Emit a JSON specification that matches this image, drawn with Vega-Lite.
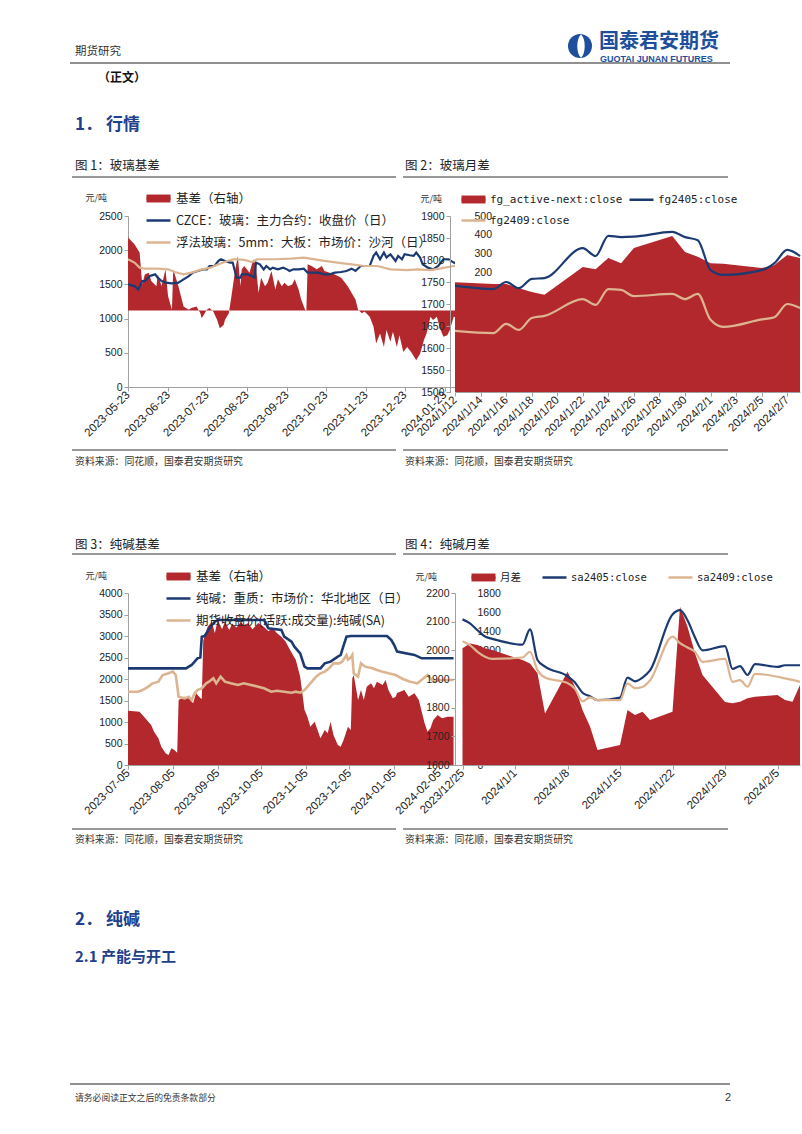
{
"$schema": "https://vega.github.io/schema/vega-lite/v6.json",
"padding": 0,
"background": "white",
"config": {
  "font": "Noto Sans CJK SC",
  "view": {"stroke": null},
  "axis": {"labelFont": "Liberation Sans", "labelFontSize": 10.5, "labelColor": "#222", "domainColor": "#a0a0a0", "tickColor": "#a0a0a0", "tickSize": 4, "grid": false, "labelPadding": 2}
},
"datasets": {
"g1": [
{"d":"2023-05-23","s":"b","v":386},{"d":"2023-05-28","s":"b","v":351},{"d":"2023-06-01","s":"b","v":307},{"d":"2023-06-03","s":"b","v":138},{"d":"2023-06-05","s":"b","v":191},{"d":"2023-06-08","s":"b","v":200},{"d":"2023-06-10","s":"b","v":156},{"d":"2023-06-14","s":"b","v":129},{"d":"2023-06-15","s":"b","v":191},{"d":"2023-06-18","s":"b","v":129},{"d":"2023-06-21","s":"b","v":218},{"d":"2023-06-23","s":"b","v":76},{"d":"2023-06-26","s":"b","v":5},{"d":"2023-06-27","s":"b","v":218},{"d":"2023-07-01","s":"b","v":129},{"d":"2023-07-05","s":"b","v":21},{"d":"2023-07-09","s":"b","v":5},{"d":"2023-07-11","s":"b","v":13},{"d":"2023-07-15","s":"b","v":21},{"d":"2023-07-18","s":"b","v":-14},{"d":"2023-07-19","s":"b","v":-41},{"d":"2023-07-23","s":"b","v":5},{"d":"2023-07-25","s":"b","v":13},{"d":"2023-07-28","s":"b","v":-5},{"d":"2023-07-31","s":"b","v":-50},{"d":"2023-08-02","s":"b","v":-94},{"d":"2023-08-05","s":"b","v":-76},{"d":"2023-08-06","s":"b","v":-50},{"d":"2023-08-09","s":"b","v":-14},{"d":"2023-08-11","s":"b","v":74},{"d":"2023-08-14","s":"b","v":218},{"d":"2023-08-16","s":"b","v":289},{"d":"2023-08-18","s":"b","v":129},{"d":"2023-08-19","s":"b","v":218},{"d":"2023-08-21","s":"b","v":236},{"d":"2023-08-25","s":"b","v":200},{"d":"2023-08-28","s":"b","v":271},{"d":"2023-08-30","s":"b","v":236},{"d":"2023-09-01","s":"b","v":94},{"d":"2023-09-03","s":"b","v":174},{"d":"2023-09-06","s":"b","v":129},{"d":"2023-09-08","s":"b","v":147},{"d":"2023-09-11","s":"b","v":209},{"d":"2023-09-14","s":"b","v":111},{"d":"2023-09-16","s":"b","v":165},{"d":"2023-09-19","s":"b","v":129},{"d":"2023-09-21","s":"b","v":147},{"d":"2023-09-24","s":"b","v":129},{"d":"2023-09-27","s":"b","v":138},{"d":"2023-09-29","s":"b","v":165},{"d":"2023-10-02","s":"b","v":111},{"d":"2023-10-04","s":"b","v":58},{"d":"2023-10-07","s":"b","v":5},{"d":"2023-10-08","s":"b","v":0},{"d":"2023-10-09","s":"b","v":245},{"d":"2023-10-12","s":"b","v":236},{"d":"2023-10-16","s":"b","v":218},{"d":"2023-10-20","s":"b","v":236},{"d":"2023-10-22","s":"b","v":209},{"d":"2023-10-26","s":"b","v":200},{"d":"2023-10-30","s":"b","v":191},{"d":"2023-11-04","s":"b","v":174},{"d":"2023-11-09","s":"b","v":129},{"d":"2023-11-15","s":"b","v":58},{"d":"2023-11-17","s":"b","v":5},{"d":"2023-11-20","s":"b","v":-14},{"d":"2023-11-22","s":"b","v":-5},{"d":"2023-11-26","s":"b","v":-32},{"d":"2023-11-29","s":"b","v":-85},{"d":"2023-12-01","s":"b","v":-174},{"d":"2023-12-04","s":"b","v":-121},{"d":"2023-12-07","s":"b","v":-192},{"d":"2023-12-09","s":"b","v":-103},{"d":"2023-12-12","s":"b","v":-165},{"d":"2023-12-14","s":"b","v":-112},{"d":"2023-12-17","s":"b","v":-192},{"d":"2023-12-19","s":"b","v":-130},{"d":"2023-12-22","s":"b","v":-219},{"d":"2023-12-25","s":"b","v":-192},{"d":"2023-12-28","s":"b","v":-219},{"d":"2024-01-01","s":"b","v":-263},{"d":"2024-01-04","s":"b","v":-228},{"d":"2024-01-07","s":"b","v":-156},{"d":"2024-01-09","s":"b","v":-121},{"d":"2024-01-12","s":"b","v":-32},{"d":"2024-01-14","s":"b","v":-50},{"d":"2024-01-17","s":"b","v":-32},{"d":"2024-01-19","s":"b","v":-85},{"d":"2024-01-22","s":"b","v":-139},{"d":"2024-01-25","s":"b","v":-130},{"d":"2024-01-27","s":"b","v":-103},{"d":"2024-01-30","s":"b","v":-32},{"d":"2024-02-04","s":"b","v":-40},{"d":"2024-02-08","s":"b","v":-20},
{"d":"2023-05-23","s":"f","v":1500},{"d":"2023-05-28","s":"f","v":1475},{"d":"2023-05-31","s":"f","v":1426},{"d":"2023-06-03","s":"f","v":1549},{"d":"2023-06-05","s":"f","v":1549},{"d":"2023-06-09","s":"f","v":1622},{"d":"2023-06-13","s":"f","v":1647},{"d":"2023-06-15","s":"f","v":1598},{"d":"2023-06-18","s":"f","v":1549},{"d":"2023-06-21","s":"f","v":1525},{"d":"2023-06-26","s":"f","v":1515},{"d":"2023-07-01","s":"f","v":1525},{"d":"2023-07-05","s":"f","v":1574},{"d":"2023-07-09","s":"f","v":1622},{"d":"2023-07-12","s":"f","v":1672},{"d":"2023-07-16","s":"f","v":1696},{"d":"2023-07-20","s":"f","v":1720},{"d":"2023-07-23","s":"f","v":1720},{"d":"2023-07-25","s":"f","v":1769},{"d":"2023-07-29","s":"f","v":1769},{"d":"2023-08-01","s":"f","v":1843},{"d":"2023-08-03","s":"f","v":1868},{"d":"2023-08-06","s":"f","v":1843},{"d":"2023-08-10","s":"f","v":1819},{"d":"2023-08-12","s":"f","v":1819},{"d":"2023-08-15","s":"f","v":1598},{"d":"2023-08-18","s":"f","v":1598},{"d":"2023-08-19","s":"f","v":1647},{"d":"2023-08-23","s":"f","v":1647},{"d":"2023-08-27","s":"f","v":1622},{"d":"2023-08-29","s":"f","v":1598},{"d":"2023-08-30","s":"f","v":1819},{"d":"2023-09-02","s":"f","v":1794},{"d":"2023-09-05","s":"f","v":1720},{"d":"2023-09-07","s":"f","v":1769},{"d":"2023-09-10","s":"f","v":1720},{"d":"2023-09-12","s":"f","v":1745},{"d":"2023-09-16","s":"f","v":1720},{"d":"2023-09-20","s":"f","v":1745},{"d":"2023-09-23","s":"f","v":1720},{"d":"2023-09-25","s":"f","v":1696},{"d":"2023-09-28","s":"f","v":1720},{"d":"2023-10-02","s":"f","v":1720},{"d":"2023-10-06","s":"f","v":1730},{"d":"2023-10-09","s":"f","v":1672},{"d":"2023-10-17","s":"f","v":1672},{"d":"2023-10-22","s":"f","v":1647},{"d":"2023-10-26","s":"f","v":1647},{"d":"2023-10-30","s":"f","v":1672},{"d":"2023-11-04","s":"f","v":1681},{"d":"2023-11-08","s":"f","v":1696},{"d":"2023-11-12","s":"f","v":1730},{"d":"2023-11-15","s":"f","v":1696},{"d":"2023-11-19","s":"f","v":1769},{"d":"2023-11-22","s":"f","v":1769},{"d":"2023-11-26","s":"f","v":1769},{"d":"2023-11-29","s":"f","v":1917},{"d":"2023-12-01","s":"f","v":1966},{"d":"2023-12-04","s":"f","v":1868},{"d":"2023-12-07","s":"f","v":1966},{"d":"2023-12-09","s":"f","v":1892},{"d":"2023-12-12","s":"f","v":1941},{"d":"2023-12-16","s":"f","v":1843},{"d":"2023-12-18","s":"f","v":1917},{"d":"2023-12-21","s":"f","v":1868},{"d":"2023-12-23","s":"f","v":1941},{"d":"2023-12-27","s":"f","v":1926},{"d":"2023-12-30","s":"f","v":1917},{"d":"2024-01-01","s":"f","v":1966},{"d":"2024-01-04","s":"f","v":1892},{"d":"2024-01-06","s":"f","v":1794},{"d":"2024-01-10","s":"f","v":1745},{"d":"2024-01-14","s":"f","v":1720},{"d":"2024-01-18","s":"f","v":1769},{"d":"2024-01-22","s":"f","v":1868},{"d":"2024-01-26","s":"f","v":1868},{"d":"2024-01-30","s":"f","v":1819},{"d":"2024-02-03","s":"f","v":1794},{"d":"2024-02-07","s":"f","v":1843},{"d":"2024-02-08","s":"f","v":1830},
{"d":"2023-05-23","s":"s","v":1868},{"d":"2023-05-28","s":"s","v":1819},{"d":"2023-06-01","s":"s","v":1745},{"d":"2023-06-05","s":"s","v":1730},{"d":"2023-06-15","s":"s","v":1730},{"d":"2023-06-23","s":"s","v":1720},{"d":"2023-06-28","s":"s","v":1681},{"d":"2023-07-05","s":"s","v":1647},{"d":"2023-07-11","s":"s","v":1672},{"d":"2023-07-19","s":"s","v":1720},{"d":"2023-07-26","s":"s","v":1745},{"d":"2023-08-01","s":"s","v":1794},{"d":"2023-08-08","s":"s","v":1843},{"d":"2023-08-13","s":"s","v":1868},{"d":"2023-08-21","s":"s","v":1858},{"d":"2023-08-27","s":"s","v":1828},{"d":"2023-08-31","s":"s","v":1868},{"d":"2023-09-13","s":"s","v":1868},{"d":"2023-09-26","s":"s","v":1877},{"d":"2023-10-06","s":"s","v":1892},{"d":"2023-10-11","s":"s","v":1877},{"d":"2023-10-22","s":"s","v":1843},{"d":"2023-11-01","s":"s","v":1819},{"d":"2023-11-12","s":"s","v":1794},{"d":"2023-11-22","s":"s","v":1769},{"d":"2023-12-02","s":"s","v":1769},{"d":"2023-12-12","s":"s","v":1720},{"d":"2023-12-25","s":"s","v":1710},{"d":"2024-01-02","s":"s","v":1720},{"d":"2024-01-12","s":"s","v":1710},{"d":"2024-01-19","s":"s","v":1730},{"d":"2024-01-30","s":"s","v":1769},{"d":"2024-02-08","s":"s","v":1780}
],
"g2": [
{"d":"2024-01-12","s":"a","v":312},{"d":"2024-01-15","s":"a","v":307},{"d":"2024-01-16","s":"a","v":307},{"d":"2024-01-17","s":"a","v":295},{"d":"2024-01-18","s":"a","v":284},{"d":"2024-01-19","s":"a","v":276},{"d":"2024-01-22","s":"a","v":355},{"d":"2024-01-23","s":"a","v":349},{"d":"2024-01-24","s":"a","v":381},{"d":"2024-01-25","s":"a","v":366},{"d":"2024-01-26","s":"a","v":409},{"d":"2024-01-29","s":"a","v":443},{"d":"2024-01-30","s":"a","v":398},{"d":"2024-01-31","s":"a","v":384},{"d":"2024-02-01","s":"a","v":366},{"d":"2024-02-02","s":"a","v":364},{"d":"2024-02-05","s":"a","v":352},{"d":"2024-02-06","s":"a","v":361},{"d":"2024-02-07","s":"a","v":389},{"d":"2024-02-08","s":"a","v":381},
{"d":"2024-01-12","s":"f5","v":1741},{"d":"2024-01-15","s":"f5","v":1734},{"d":"2024-01-16","s":"f5","v":1750},{"d":"2024-01-17","s":"f5","v":1736},{"d":"2024-01-18","s":"f5","v":1757},{"d":"2024-01-19","s":"f5","v":1759},{"d":"2024-01-22","s":"f5","v":1827},{"d":"2024-01-23","s":"f5","v":1809},{"d":"2024-01-24","s":"f5","v":1855},{"d":"2024-01-25","s":"f5","v":1852},{"d":"2024-01-26","s":"f5","v":1853},{"d":"2024-01-29","s":"f5","v":1864},{"d":"2024-01-30","s":"f5","v":1852},{"d":"2024-01-31","s":"f5","v":1845},{"d":"2024-02-01","s":"f5","v":1777},{"d":"2024-02-02","s":"f5","v":1766},{"d":"2024-02-05","s":"f5","v":1777},{"d":"2024-02-06","s":"f5","v":1793},{"d":"2024-02-07","s":"f5","v":1823},{"d":"2024-02-08","s":"f5","v":1809},
{"d":"2024-01-12","s":"f9","v":1639},{"d":"2024-01-15","s":"f9","v":1634},{"d":"2024-01-16","s":"f9","v":1655},{"d":"2024-01-17","s":"f9","v":1641},{"d":"2024-01-18","s":"f9","v":1668},{"d":"2024-01-19","s":"f9","v":1673},{"d":"2024-01-22","s":"f9","v":1711},{"d":"2024-01-23","s":"f9","v":1698},{"d":"2024-01-24","s":"f9","v":1734},{"d":"2024-01-25","s":"f9","v":1732},{"d":"2024-01-26","s":"f9","v":1718},{"d":"2024-01-29","s":"f9","v":1723},{"d":"2024-01-30","s":"f9","v":1711},{"d":"2024-01-31","s":"f9","v":1723},{"d":"2024-02-01","s":"f9","v":1664},{"d":"2024-02-02","s":"f9","v":1648},{"d":"2024-02-05","s":"f9","v":1665},{"d":"2024-02-06","s":"f9","v":1670},{"d":"2024-02-07","s":"f9","v":1700},{"d":"2024-02-08","s":"f9","v":1691}
],
"g3": [
{"d":"2023-07-05","s":"b","v":568},{"d":"2023-07-13","s":"b","v":558},{"d":"2023-07-18","s":"b","v":471},{"d":"2023-07-21","s":"b","v":419},{"d":"2023-07-23","s":"b","v":349},{"d":"2023-07-26","s":"b","v":279},{"d":"2023-07-28","s":"b","v":192},{"d":"2023-07-31","s":"b","v":122},{"d":"2023-08-02","s":"b","v":105},{"d":"2023-08-04","s":"b","v":175},{"d":"2023-08-06","s":"b","v":157},{"d":"2023-08-08","s":"b","v":129},{"d":"2023-08-09","s":"b","v":680},{"d":"2023-08-13","s":"b","v":715},{"d":"2023-08-16","s":"b","v":698},{"d":"2023-08-19","s":"b","v":645},{"d":"2023-08-21","s":"b","v":750},{"d":"2023-08-24","s":"b","v":700},{"d":"2023-08-25","s":"b","v":690},{"d":"2023-08-26","s":"b","v":1300},{"d":"2023-08-29","s":"b","v":1447},{"d":"2023-09-01","s":"b","v":1500},{"d":"2023-09-03","s":"b","v":1380},{"d":"2023-09-05","s":"b","v":1517},{"d":"2023-09-08","s":"b","v":1420},{"d":"2023-09-10","s":"b","v":1500},{"d":"2023-09-13","s":"b","v":1413},{"d":"2023-09-15","s":"b","v":1480},{"d":"2023-09-18","s":"b","v":1440},{"d":"2023-09-21","s":"b","v":1497},{"d":"2023-09-23","s":"b","v":1465},{"d":"2023-09-26","s":"b","v":1483},{"d":"2023-09-29","s":"b","v":1420},{"d":"2023-10-03","s":"b","v":1486},{"d":"2023-10-07","s":"b","v":1444},{"d":"2023-10-10","s":"b","v":1400},{"d":"2023-10-13","s":"b","v":1434},{"d":"2023-10-16","s":"b","v":1380},{"d":"2023-10-19","s":"b","v":1343},{"d":"2023-10-22","s":"b","v":1290},{"d":"2023-10-25","s":"b","v":1203},{"d":"2023-10-29","s":"b","v":1099},{"d":"2023-11-01","s":"b","v":924},{"d":"2023-11-04","s":"b","v":576},{"d":"2023-11-06","s":"b","v":506},{"d":"2023-11-08","s":"b","v":401},{"d":"2023-11-11","s":"b","v":453},{"d":"2023-11-13","s":"b","v":366},{"d":"2023-11-15","s":"b","v":279},{"d":"2023-11-18","s":"b","v":366},{"d":"2023-11-20","s":"b","v":332},{"d":"2023-11-22","s":"b","v":453},{"d":"2023-11-24","s":"b","v":314},{"d":"2023-11-27","s":"b","v":209},{"d":"2023-11-29","s":"b","v":192},{"d":"2023-12-01","s":"b","v":262},{"d":"2023-12-04","s":"b","v":401},{"d":"2023-12-06","s":"b","v":366},{"d":"2023-12-07","s":"b","v":907},{"d":"2023-12-08","s":"b","v":942},{"d":"2023-12-11","s":"b","v":680},{"d":"2023-12-13","s":"b","v":785},{"d":"2023-12-15","s":"b","v":680},{"d":"2023-12-17","s":"b","v":820},{"d":"2023-12-20","s":"b","v":855},{"d":"2023-12-22","s":"b","v":803},{"d":"2023-12-24","s":"b","v":872},{"d":"2023-12-28","s":"b","v":838},{"d":"2023-12-30","s":"b","v":890},{"d":"2024-01-01","s":"b","v":785},{"d":"2024-01-04","s":"b","v":698},{"d":"2024-01-06","s":"b","v":715},{"d":"2024-01-07","s":"b","v":753},{"d":"2024-01-12","s":"b","v":785},{"d":"2024-01-15","s":"b","v":715},{"d":"2024-01-19","s":"b","v":750},{"d":"2024-01-22","s":"b","v":680},{"d":"2024-01-26","s":"b","v":436},{"d":"2024-01-28","s":"b","v":349},{"d":"2024-01-30","s":"b","v":384},{"d":"2024-02-01","s":"b","v":471},{"d":"2024-02-04","s":"b","v":523},{"d":"2024-02-07","s":"b","v":488},{"d":"2024-02-11","s":"b","v":506},{"d":"2024-02-15","s":"b","v":506},
{"d":"2023-07-05","s":"p","v":2248},{"d":"2023-08-14","s":"p","v":2248},{"d":"2023-08-18","s":"p","v":2326},{"d":"2023-08-22","s":"p","v":2481},{"d":"2023-08-24","s":"p","v":2500},{"d":"2023-08-25","s":"p","v":2984},{"d":"2023-08-27","s":"p","v":3000},{"d":"2023-08-31","s":"p","v":3217},{"d":"2023-09-03","s":"p","v":3333},{"d":"2023-09-05","s":"p","v":3372},{"d":"2023-10-07","s":"p","v":3372},{"d":"2023-10-10","s":"p","v":3178},{"d":"2023-10-19","s":"p","v":3140},{"d":"2023-10-21","s":"p","v":2984},{"d":"2023-10-26","s":"p","v":2868},{"d":"2023-10-28","s":"p","v":2751},{"d":"2023-11-01","s":"p","v":2597},{"d":"2023-11-04","s":"p","v":2287},{"d":"2023-11-06","s":"p","v":2248},{"d":"2023-11-15","s":"p","v":2248},{"d":"2023-11-18","s":"p","v":2364},{"d":"2023-11-22","s":"p","v":2403},{"d":"2023-11-27","s":"p","v":2519},{"d":"2023-11-29","s":"p","v":2558},{"d":"2023-11-30","s":"p","v":2674},{"d":"2023-12-03","s":"p","v":2984},{"d":"2023-12-06","s":"p","v":3000},{"d":"2023-12-31","s":"p","v":3000},{"d":"2024-01-03","s":"p","v":2907},{"d":"2024-01-05","s":"p","v":2791},{"d":"2024-01-07","s":"p","v":2636},{"d":"2024-01-19","s":"p","v":2560},{"d":"2024-01-24","s":"p","v":2481},{"d":"2024-02-15","s":"p","v":2481},
{"d":"2023-07-05","s":"q","v":1705},{"d":"2023-07-12","s":"q","v":1705},{"d":"2023-07-15","s":"q","v":1744},{"d":"2023-07-19","s":"q","v":1822},{"d":"2023-07-22","s":"q","v":1899},{"d":"2023-07-26","s":"q","v":1938},{"d":"2023-07-29","s":"q","v":2093},{"d":"2023-08-02","s":"q","v":2132},{"d":"2023-08-05","s":"q","v":2171},{"d":"2023-08-07","s":"q","v":2093},{"d":"2023-08-09","s":"q","v":1589},{"d":"2023-08-13","s":"q","v":1550},{"d":"2023-08-16","s":"q","v":1589},{"d":"2023-08-18","s":"q","v":1512},{"d":"2023-08-20","s":"q","v":1667},{"d":"2023-08-22","s":"q","v":1744},{"d":"2023-08-25","s":"q","v":1783},{"d":"2023-08-28","s":"q","v":1899},{"d":"2023-08-30","s":"q","v":1938},{"d":"2023-09-02","s":"q","v":2016},{"d":"2023-09-04","s":"q","v":1899},{"d":"2023-09-07","s":"q","v":2054},{"d":"2023-09-10","s":"q","v":1938},{"d":"2023-09-14","s":"q","v":1899},{"d":"2023-09-19","s":"q","v":1860},{"d":"2023-09-23","s":"q","v":1899},{"d":"2023-09-28","s":"q","v":1860},{"d":"2023-10-03","s":"q","v":1822},{"d":"2023-10-07","s":"q","v":1783},{"d":"2023-10-12","s":"q","v":1705},{"d":"2023-10-16","s":"q","v":1728},{"d":"2023-10-21","s":"q","v":1705},{"d":"2023-10-26","s":"q","v":1682},{"d":"2023-10-29","s":"q","v":1705},{"d":"2023-11-01","s":"q","v":1682},{"d":"2023-11-04","s":"q","v":1744},{"d":"2023-11-08","s":"q","v":1899},{"d":"2023-11-12","s":"q","v":2054},{"d":"2023-11-15","s":"q","v":2132},{"d":"2023-11-18","s":"q","v":2171},{"d":"2023-11-21","s":"q","v":2248},{"d":"2023-11-24","s":"q","v":2364},{"d":"2023-11-28","s":"q","v":2364},{"d":"2023-11-30","s":"q","v":2403},{"d":"2023-12-03","s":"q","v":2558},{"d":"2023-12-04","s":"q","v":2450},{"d":"2023-12-06","s":"q","v":2500},{"d":"2023-12-07","s":"q","v":2558},{"d":"2023-12-08","s":"q","v":2132},{"d":"2023-12-11","s":"q","v":2054},{"d":"2023-12-13","s":"q","v":2364},{"d":"2023-12-16","s":"q","v":2287},{"d":"2023-12-21","s":"q","v":2248},{"d":"2023-12-24","s":"q","v":2209},{"d":"2023-12-28","s":"q","v":2171},{"d":"2024-01-01","s":"q","v":2132},{"d":"2024-01-06","s":"q","v":2093},{"d":"2024-01-11","s":"q","v":2000},{"d":"2024-01-16","s":"q","v":1938},{"d":"2024-01-21","s":"q","v":1899},{"d":"2024-01-28","s":"q","v":2093},{"d":"2024-02-01","s":"q","v":1938},{"d":"2024-02-06","s":"q","v":1977},{"d":"2024-02-15","s":"q","v":1977}
],
"g4": [
{"d":"2023-12-25","s":"m","v":407},{"d":"2023-12-26","s":"m","v":424},{"d":"2023-12-27","s":"m","v":419},{"d":"2023-12-28","s":"m","v":407},{"d":"2023-12-29","s":"m","v":401},{"d":"2024-01-02","s":"m","v":366},{"d":"2024-01-03","s":"m","v":354},{"d":"2024-01-04","s":"m","v":320},{"d":"2024-01-05","s":"m","v":180},{"d":"2024-01-08","s":"m","v":325},{"d":"2024-01-09","s":"m","v":273},{"d":"2024-01-10","s":"m","v":192},{"d":"2024-01-11","s":"m","v":134},{"d":"2024-01-12","s":"m","v":52},{"d":"2024-01-15","s":"m","v":70},{"d":"2024-01-16","s":"m","v":192},{"d":"2024-01-17","s":"m","v":174},{"d":"2024-01-18","s":"m","v":186},{"d":"2024-01-19","s":"m","v":157},{"d":"2024-01-22","s":"m","v":186},{"d":"2024-01-23","s":"m","v":552},{"d":"2024-01-24","s":"m","v":482},{"d":"2024-01-25","s":"m","v":390},{"d":"2024-01-26","s":"m","v":314},{"d":"2024-01-29","s":"m","v":220},{"d":"2024-01-30","s":"m","v":215},{"d":"2024-01-31","s":"m","v":221},{"d":"2024-02-01","s":"m","v":233},{"d":"2024-02-02","s":"m","v":238},{"d":"2024-02-05","s":"m","v":244},{"d":"2024-02-06","s":"m","v":227},{"d":"2024-02-07","s":"m","v":221},{"d":"2024-02-08","s":"m","v":279},
{"d":"2023-12-25","s":"s5","v":2108},{"d":"2023-12-26","s":"s5","v":2094},{"d":"2023-12-27","s":"s5","v":2070},{"d":"2023-12-28","s":"s5","v":2048},{"d":"2023-12-29","s":"s5","v":2040},{"d":"2024-01-02","s":"s5","v":2020},{"d":"2024-01-03","s":"s5","v":2073},{"d":"2024-01-04","s":"s5","v":1966},{"d":"2024-01-05","s":"s5","v":1943},{"d":"2024-01-08","s":"s5","v":1910},{"d":"2024-01-09","s":"s5","v":1888},{"d":"2024-01-10","s":"s5","v":1852},{"d":"2024-01-11","s":"s5","v":1840},{"d":"2024-01-12","s":"s5","v":1826},{"d":"2024-01-15","s":"s5","v":1835},{"d":"2024-01-16","s":"s5","v":1905},{"d":"2024-01-17","s":"s5","v":1892},{"d":"2024-01-18","s":"s5","v":1905},{"d":"2024-01-19","s":"s5","v":1930},{"d":"2024-01-22","s":"s5","v":2125},{"d":"2024-01-23","s":"s5","v":2140},{"d":"2024-01-24","s":"s5","v":2105},{"d":"2024-01-25","s":"s5","v":2045},{"d":"2024-01-26","s":"s5","v":2000},{"d":"2024-01-29","s":"s5","v":2015},{"d":"2024-01-30","s":"s5","v":1935},{"d":"2024-01-31","s":"s5","v":1945},{"d":"2024-02-01","s":"s5","v":1914},{"d":"2024-02-02","s":"s5","v":1952},{"d":"2024-02-05","s":"s5","v":1942},{"d":"2024-02-06","s":"s5","v":1948},{"d":"2024-02-07","s":"s5","v":1948},{"d":"2024-02-08","s":"s5","v":1948},
{"d":"2023-12-25","s":"s9","v":2032},{"d":"2023-12-26","s":"s9","v":2018},{"d":"2023-12-27","s":"s9","v":1995},{"d":"2023-12-28","s":"s9","v":1978},{"d":"2023-12-29","s":"s9","v":1970},{"d":"2024-01-02","s":"s9","v":1975},{"d":"2024-01-03","s":"s9","v":1995},{"d":"2024-01-04","s":"s9","v":1931},{"d":"2024-01-05","s":"s9","v":1905},{"d":"2024-01-08","s":"s9","v":1886},{"d":"2024-01-09","s":"s9","v":1866},{"d":"2024-01-10","s":"s9","v":1822},{"d":"2024-01-11","s":"s9","v":1836},{"d":"2024-01-12","s":"s9","v":1826},{"d":"2024-01-15","s":"s9","v":1826},{"d":"2024-01-16","s":"s9","v":1885},{"d":"2024-01-17","s":"s9","v":1868},{"d":"2024-01-18","s":"s9","v":1872},{"d":"2024-01-19","s":"s9","v":1895},{"d":"2024-01-22","s":"s9","v":2048},{"d":"2024-01-23","s":"s9","v":2025},{"d":"2024-01-24","s":"s9","v":2010},{"d":"2024-01-25","s":"s9","v":1995},{"d":"2024-01-26","s":"s9","v":1960},{"d":"2024-01-29","s":"s9","v":1970},{"d":"2024-01-30","s":"s9","v":1890},{"d":"2024-01-31","s":"s9","v":1896},{"d":"2024-02-01","s":"s9","v":1873},{"d":"2024-02-02","s":"s9","v":1918},{"d":"2024-02-05","s":"s9","v":1908},{"d":"2024-02-06","s":"s9","v":1902},{"d":"2024-02-07","s":"s9","v":1897},{"d":"2024-02-08","s":"s9","v":1890}
]
},
"columns": 3,
"bounds": "flush",
"spacing": {"row": 201, "column": 0},
"resolve": {"scale": {"fill": "independent", "stroke": "independent"}, "legend": {"fill": "independent", "stroke": "independent"}},
"concat": [
{
 "width": 128, "height": 15,
 "data": {"values": [{"n": 1}]},
 "layer": [
  {"data": {"values": [{"t": "期货研究"}]}, "mark": {"type": "text", "align": "left", "baseline": "middle", "fontSize": 11.5, "color": "#333"}, "encoding": {"text": {"field": "t"}, "x": {"datum": 75, "type": "quantitative", "scale": {"domain": [0,128], "nice": false, "zero": false}, "axis": null}, "y": {"datum": 52, "type": "quantitative", "scale": {"domain": [0,15], "nice": false, "zero": false, "reverse": true}, "axis": null}}},
  {"mark": {"type": "point", "shape": "circle", "filled": true, "size": 576, "color": "#1d4f9c", "opacity": 1}, "encoding": {"x": {"datum": 580, "type": "quantitative", "scale": {"domain": [0,128], "nice": false, "zero": false}, "axis": null}, "y": {"datum": 46, "type": "quantitative", "scale": {"domain": [0,15], "nice": false, "zero": false, "reverse": true}, "axis": null}}},
  {"mark": {"type": "point", "shape": "M0,-1C0.42,-0.6 0.42,0.6 0,1C-0.42,0.6 -0.42,-0.6 0,-1Z", "filled": true, "size": 560, "color": "#ffffff", "opacity": 1}, "encoding": {"x": {"datum": 581, "type": "quantitative", "scale": {"domain": [0,128], "nice": false, "zero": false}, "axis": null}, "y": {"datum": 46, "type": "quantitative", "scale": {"domain": [0,15], "nice": false, "zero": false, "reverse": true}, "axis": null}}},
  {"data": {"values": [{"t": "国泰君安期货"}]}, "mark": {"type": "text", "align": "left", "baseline": "middle", "fontSize": 20, "fontWeight": "bold", "color": "#1d4f9c"}, "encoding": {"text": {"field": "t"}, "x": {"datum": 599, "type": "quantitative", "scale": {"domain": [0,128], "nice": false, "zero": false}, "axis": null}, "y": {"datum": 41.5, "type": "quantitative", "scale": {"domain": [0,15], "nice": false, "zero": false, "reverse": true}, "axis": null}}},
  {"data": {"values": [{"t": "GUOTAI JUNAN FUTURES"}]}, "mark": {"type": "text", "align": "left", "baseline": "middle", "font": "Liberation Sans", "fontSize": 9, "fontWeight": "bold", "color": "#1d4f9c"}, "encoding": {"text": {"field": "t"}, "x": {"datum": 600, "type": "quantitative", "scale": {"domain": [0,128], "nice": false, "zero": false}, "axis": null}, "y": {"datum": 58.5, "type": "quantitative", "scale": {"domain": [0,15], "nice": false, "zero": false, "reverse": true}, "axis": null}}},
  {"mark": {"type": "rule", "color": "#222", "strokeWidth": 1.2}, "encoding": {"x": {"datum": 70, "type": "quantitative", "scale": {"domain": [0,128], "nice": false, "zero": false}, "axis": null}, "x2": {"datum": 730}, "y": {"datum": 63, "type": "quantitative", "scale": {"domain": [0,15], "nice": false, "zero": false, "reverse": true}, "axis": null}}},
  {"data": {"values": [{"t": "（正文）"}]}, "mark": {"type": "text", "align": "left", "baseline": "middle", "fontSize": 12, "fontWeight": "bold", "color": "#111"}, "encoding": {"text": {"field": "t"}, "x": {"datum": 98, "type": "quantitative", "scale": {"domain": [0,128], "nice": false, "zero": false}, "axis": null}, "y": {"datum": 78, "type": "quantitative", "scale": {"domain": [0,15], "nice": false, "zero": false, "reverse": true}, "axis": null}}},
  {"data": {"values": [{"t": "1．  行情"}]}, "mark": {"type": "text", "align": "left", "baseline": "middle", "fontSize": 17, "fontWeight": "bold", "color": "#21408c"}, "encoding": {"text": {"field": "t"}, "x": {"datum": 75, "type": "quantitative", "scale": {"domain": [0,128], "nice": false, "zero": false}, "axis": null}, "y": {"datum": 125, "type": "quantitative", "scale": {"domain": [0,15], "nice": false, "zero": false, "reverse": true}, "axis": null}}},
  {"data": {"values": [{"t": "图 1：玻璃基差"}]}, "mark": {"type": "text", "align": "left", "baseline": "middle", "fontSize": 12.5, "color": "#222"}, "encoding": {"text": {"field": "t"}, "x": {"datum": 75, "type": "quantitative", "scale": {"domain": [0,128], "nice": false, "zero": false}, "axis": null}, "y": {"datum": 166, "type": "quantitative", "scale": {"domain": [0,15], "nice": false, "zero": false, "reverse": true}, "axis": null}}},
  {"data": {"values": [{"t": "图 2：玻璃月差"}]}, "mark": {"type": "text", "align": "left", "baseline": "middle", "fontSize": 12.5, "color": "#222"}, "encoding": {"text": {"field": "t"}, "x": {"datum": 405, "type": "quantitative", "scale": {"domain": [0,128], "nice": false, "zero": false}, "axis": null}, "y": {"datum": 166, "type": "quantitative", "scale": {"domain": [0,15], "nice": false, "zero": false, "reverse": true}, "axis": null}}},
  {"mark": {"type": "rule", "color": "#333", "strokeWidth": 1}, "encoding": {"x": {"datum": 72, "type": "quantitative", "scale": {"domain": [0,128], "nice": false, "zero": false}, "axis": null}, "x2": {"datum": 396}, "y": {"datum": 177, "type": "quantitative", "scale": {"domain": [0,15], "nice": false, "zero": false, "reverse": true}, "axis": null}}},
  {"mark": {"type": "rule", "color": "#333", "strokeWidth": 1}, "encoding": {"x": {"datum": 403, "type": "quantitative", "scale": {"domain": [0,128], "nice": false, "zero": false}, "axis": null}, "x2": {"datum": 728}, "y": {"datum": 177, "type": "quantitative", "scale": {"domain": [0,15], "nice": false, "zero": false, "reverse": true}, "axis": null}}},
  {"mark": {"type": "rule", "color": "#333", "strokeWidth": 1}, "encoding": {"x": {"datum": 72, "type": "quantitative", "scale": {"domain": [0,128], "nice": false, "zero": false}, "axis": null}, "x2": {"datum": 396}, "y": {"datum": 450, "type": "quantitative", "scale": {"domain": [0,15], "nice": false, "zero": false, "reverse": true}, "axis": null}}},
  {"mark": {"type": "rule", "color": "#333", "strokeWidth": 1}, "encoding": {"x": {"datum": 403, "type": "quantitative", "scale": {"domain": [0,128], "nice": false, "zero": false}, "axis": null}, "x2": {"datum": 728}, "y": {"datum": 450, "type": "quantitative", "scale": {"domain": [0,15], "nice": false, "zero": false, "reverse": true}, "axis": null}}},
  {"data": {"values": [{"t": "资料来源：同花顺，国泰君安期货研究"}]}, "mark": {"type": "text", "align": "left", "baseline": "middle", "fontSize": 9.9, "color": "#333"}, "encoding": {"text": {"field": "t"}, "x": {"datum": 75, "type": "quantitative", "scale": {"domain": [0,128], "nice": false, "zero": false}, "axis": null}, "y": {"datum": 462, "type": "quantitative", "scale": {"domain": [0,15], "nice": false, "zero": false, "reverse": true}, "axis": null}}},
  {"data": {"values": [{"t": "资料来源：同花顺，国泰君安期货研究"}]}, "mark": {"type": "text", "align": "left", "baseline": "middle", "fontSize": 9.9, "color": "#333"}, "encoding": {"text": {"field": "t"}, "x": {"datum": 405, "type": "quantitative", "scale": {"domain": [0,128], "nice": false, "zero": false}, "axis": null}, "y": {"datum": 462, "type": "quantitative", "scale": {"domain": [0,15], "nice": false, "zero": false, "reverse": true}, "axis": null}}},
  {"data": {"values": [{"t": "图 3：纯碱基差"}]}, "mark": {"type": "text", "align": "left", "baseline": "middle", "fontSize": 12.5, "color": "#222"}, "encoding": {"text": {"field": "t"}, "x": {"datum": 75, "type": "quantitative", "scale": {"domain": [0,128], "nice": false, "zero": false}, "axis": null}, "y": {"datum": 545, "type": "quantitative", "scale": {"domain": [0,15], "nice": false, "zero": false, "reverse": true}, "axis": null}}},
  {"data": {"values": [{"t": "图 4：纯碱月差"}]}, "mark": {"type": "text", "align": "left", "baseline": "middle", "fontSize": 12.5, "color": "#222"}, "encoding": {"text": {"field": "t"}, "x": {"datum": 405, "type": "quantitative", "scale": {"domain": [0,128], "nice": false, "zero": false}, "axis": null}, "y": {"datum": 545, "type": "quantitative", "scale": {"domain": [0,15], "nice": false, "zero": false, "reverse": true}, "axis": null}}},
  {"mark": {"type": "rule", "color": "#333", "strokeWidth": 1}, "encoding": {"x": {"datum": 72, "type": "quantitative", "scale": {"domain": [0,128], "nice": false, "zero": false}, "axis": null}, "x2": {"datum": 396}, "y": {"datum": 554, "type": "quantitative", "scale": {"domain": [0,15], "nice": false, "zero": false, "reverse": true}, "axis": null}}},
  {"mark": {"type": "rule", "color": "#333", "strokeWidth": 1}, "encoding": {"x": {"datum": 403, "type": "quantitative", "scale": {"domain": [0,128], "nice": false, "zero": false}, "axis": null}, "x2": {"datum": 728}, "y": {"datum": 554, "type": "quantitative", "scale": {"domain": [0,15], "nice": false, "zero": false, "reverse": true}, "axis": null}}},
  {"mark": {"type": "rule", "color": "#333", "strokeWidth": 1}, "encoding": {"x": {"datum": 72, "type": "quantitative", "scale": {"domain": [0,128], "nice": false, "zero": false}, "axis": null}, "x2": {"datum": 396}, "y": {"datum": 829, "type": "quantitative", "scale": {"domain": [0,15], "nice": false, "zero": false, "reverse": true}, "axis": null}}},
  {"mark": {"type": "rule", "color": "#333", "strokeWidth": 1}, "encoding": {"x": {"datum": 403, "type": "quantitative", "scale": {"domain": [0,128], "nice": false, "zero": false}, "axis": null}, "x2": {"datum": 728}, "y": {"datum": 829, "type": "quantitative", "scale": {"domain": [0,15], "nice": false, "zero": false, "reverse": true}, "axis": null}}},
  {"data": {"values": [{"t": "资料来源：同花顺，国泰君安期货研究"}]}, "mark": {"type": "text", "align": "left", "baseline": "middle", "fontSize": 9.9, "color": "#333"}, "encoding": {"text": {"field": "t"}, "x": {"datum": 75, "type": "quantitative", "scale": {"domain": [0,128], "nice": false, "zero": false}, "axis": null}, "y": {"datum": 840, "type": "quantitative", "scale": {"domain": [0,15], "nice": false, "zero": false, "reverse": true}, "axis": null}}},
  {"data": {"values": [{"t": "资料来源：同花顺，国泰君安期货研究"}]}, "mark": {"type": "text", "align": "left", "baseline": "middle", "fontSize": 9.9, "color": "#333"}, "encoding": {"text": {"field": "t"}, "x": {"datum": 405, "type": "quantitative", "scale": {"domain": [0,128], "nice": false, "zero": false}, "axis": null}, "y": {"datum": 840, "type": "quantitative", "scale": {"domain": [0,15], "nice": false, "zero": false, "reverse": true}, "axis": null}}},
  {"data": {"values": [{"t": "2．  纯碱"}]}, "mark": {"type": "text", "align": "left", "baseline": "middle", "fontSize": 17, "fontWeight": "bold", "color": "#21408c"}, "encoding": {"text": {"field": "t"}, "x": {"datum": 75, "type": "quantitative", "scale": {"domain": [0,128], "nice": false, "zero": false}, "axis": null}, "y": {"datum": 920, "type": "quantitative", "scale": {"domain": [0,15], "nice": false, "zero": false, "reverse": true}, "axis": null}}},
  {"data": {"values": [{"t": "2.1  产能与开工"}]}, "mark": {"type": "text", "align": "left", "baseline": "middle", "fontSize": 15, "fontWeight": "bold", "color": "#21408c"}, "encoding": {"text": {"field": "t"}, "x": {"datum": 75, "type": "quantitative", "scale": {"domain": [0,128], "nice": false, "zero": false}, "axis": null}, "y": {"datum": 957, "type": "quantitative", "scale": {"domain": [0,15], "nice": false, "zero": false, "reverse": true}, "axis": null}}},
  {"mark": {"type": "rule", "color": "#222", "strokeWidth": 1.2}, "encoding": {"x": {"datum": 70, "type": "quantitative", "scale": {"domain": [0,128], "nice": false, "zero": false}, "axis": null}, "x2": {"datum": 730}, "y": {"datum": 1084, "type": "quantitative", "scale": {"domain": [0,15], "nice": false, "zero": false, "reverse": true}, "axis": null}}},
  {"data": {"values": [{"t": "请务必阅读正文之后的免责条款部分"}]}, "mark": {"type": "text", "align": "left", "baseline": "middle", "fontSize": 8.8, "color": "#333"}, "encoding": {"text": {"field": "t"}, "x": {"datum": 75, "type": "quantitative", "scale": {"domain": [0,128], "nice": false, "zero": false}, "axis": null}, "y": {"datum": 1098, "type": "quantitative", "scale": {"domain": [0,15], "nice": false, "zero": false, "reverse": true}, "axis": null}}},
  {"data": {"values": [{"t": "2"}]}, "mark": {"type": "text", "align": "left", "baseline": "middle", "font": "Liberation Sans", "fontSize": 11, "color": "#333"}, "encoding": {"text": {"field": "t"}, "x": {"datum": 725, "type": "quantitative", "scale": {"domain": [0,128], "nice": false, "zero": false}, "axis": null}, "y": {"datum": 1098, "type": "quantitative", "scale": {"domain": [0,15], "nice": false, "zero": false, "reverse": true}, "axis": null}}}
 ]
},
{"width": 1, "height": 1, "data": {"values": []}, "mark": "point"},
{"width": 1, "height": 1, "data": {"values": []}, "mark": "point"},
{"width": 1, "height": 1, "data": {"values": []}, "mark": "point"},
{
 "width": 327, "height": 171,
 "data": {"name": "g1"},
 "layer": [
  {"transform": [{"filter": "datum.s === 'b'"}],
   "mark": {"type": "area", "opacity": 1, "clip": true},
   "encoding": {
    "x": {"field": "d", "type": "temporal", "scale": {"type": "utc", "domain": [{"year":2023,"month":5,"date":23,"utc":true},{"year":2024,"month":1,"date":31,"utc":true}]}, "axis": {"values": [{"year":2023,"month":5,"date":23,"utc":true},{"year":2023,"month":6,"date":23,"utc":true},{"year":2023,"month":7,"date":23,"utc":true},{"year":2023,"month":8,"date":23,"utc":true},{"year":2023,"month":9,"date":23,"utc":true},{"year":2023,"month":10,"date":23,"utc":true},{"year":2023,"month":11,"date":23,"utc":true},{"year":2023,"month":12,"date":23,"utc":true},{"year":2024,"month":1,"date":23,"utc":true}], "format": "%Y-%m-%d", "labelAngle": -45, "labelAlign": "right", "labelBaseline": "middle", "labelFontSize": 11.5, "labelFlush": false, "labelOverlap": false, "title": null}},
    "y": {"field": "v", "type": "quantitative", "stack": null, "scale": {"domain": [-404, 500], "nice": false, "zero": false}, "axis": {"orient": "right", "format": "d", "domain": false, "ticks": false, "labelPadding": 19, "values": [-400,-300,-200,-100,0,100,200,300,400,500], "title": null}},
    "fill": {"field": "s", "type": "nominal", "scale": {"domain": ["b"], "range": ["#b3282d"]}, "legend": {"orient": "none", "legendX": 17, "legendY": -31, "title": null, "symbolType": "M-1,-0.33H1V0.33H-1Z", "symbolSize": 576, "symbolStrokeWidth": 2.5, "symbolOpacity": 1, "labelFontSize": 12.5, "labelExpr": "''", "rowPadding": 2, "padding": 0}}
   }},
  {"transform": [{"filter": "datum.s !== 'b'"}],
   "mark": {"type": "line", "strokeWidth": 2.2, "clip": true},
   "encoding": {
    "x": {"field": "d", "type": "temporal", "scale": {"type": "utc", "domain": [{"year":2023,"month":5,"date":23,"utc":true},{"year":2024,"month":1,"date":31,"utc":true}]}, "axis": {"values": [{"year":2023,"month":5,"date":23,"utc":true},{"year":2023,"month":6,"date":23,"utc":true},{"year":2023,"month":7,"date":23,"utc":true},{"year":2023,"month":8,"date":23,"utc":true},{"year":2023,"month":9,"date":23,"utc":true},{"year":2023,"month":10,"date":23,"utc":true},{"year":2023,"month":11,"date":23,"utc":true},{"year":2023,"month":12,"date":23,"utc":true},{"year":2024,"month":1,"date":23,"utc":true}], "format": "%Y-%m-%d", "labelAngle": -45, "labelAlign": "right", "labelBaseline": "middle", "labelFontSize": 11.5, "labelFlush": false, "labelOverlap": false, "title": null}},
    "y": {"field": "v", "type": "quantitative", "scale": {"domain": [0, 2500], "nice": false}, "axis": {"orient": "left", "format": "d", "values": [0,500,1000,1500,2000,2500], "title": "元/吨", "titleAngle": 0, "titleX": -43, "titleY": -19, "titleAlign": "left", "titleBaseline": "middle", "titleFontSize": 9, "titleFontWeight": "normal", "titleColor": "#333"}},
    "stroke": {"field": "s", "type": "nominal", "scale": {"domain": ["b","f","s"], "range": ["#b3282d","#1c3a72","#dcb590"]}, "legend": {"orient": "none", "legendX": 17, "legendY": -31, "title": null, "direction": "vertical", "symbolType": "stroke", "symbolSize": 576, "symbolStrokeWidth": 2.5, "labelFontSize": 12.5, "labelColor": "#222", "labelLimit": 0, "labelOffset": 4, "rowPadding": 2, "padding": 0, "labelExpr": "datum.label === 'b' ? '基差（右轴）' : datum.label === 'f' ? 'CZCE：玻璃：主力合约：收盘价（日）' : '浮法玻璃：5mm：大板：市场价：沙河（日）'"}}
   }}
 ],
 "resolve": {"scale": {"y": "independent"}}
},
{
 "width": 345, "height": 176,
 "data": {"name": "g2"},
 "layer": [
  {"transform": [{"filter": "datum.s === 'a'"}],
   "mark": {"type": "area", "opacity": 1},
   "encoding": {
    "x": {"field": "d", "type": "temporal", "scale": {"type": "utc", "domain": [{"year":2024,"month":1,"date":12,"utc":true},{"year":2024,"month":2,"date":8,"utc":true}]}, "axis": {"values": [{"year":2024,"month":1,"date":12,"utc":true},{"year":2024,"month":1,"date":14,"utc":true},{"year":2024,"month":1,"date":16,"utc":true},{"year":2024,"month":1,"date":18,"utc":true},{"year":2024,"month":1,"date":20,"utc":true},{"year":2024,"month":1,"date":22,"utc":true},{"year":2024,"month":1,"date":24,"utc":true},{"year":2024,"month":1,"date":26,"utc":true},{"year":2024,"month":1,"date":28,"utc":true},{"year":2024,"month":1,"date":30,"utc":true},{"year":2024,"month":2,"date":1,"utc":true},{"year":2024,"month":2,"date":3,"utc":true},{"year":2024,"month":2,"date":5,"utc":true},{"year":2024,"month":2,"date":7,"utc":true}], "format": "%Y/%-m/%-d", "labelAngle": -45, "labelAlign": "right", "labelBaseline": "middle", "labelFontSize": 11.5, "labelFlush": false, "labelOverlap": false, "title": null}},
    "y": {"field": "v", "type": "quantitative", "stack": null, "scale": {"domain": [0, 500], "nice": false}, "axis": null},
    "fill": {"field": "s", "type": "nominal", "scale": {"domain": ["a"], "range": ["#b3282d"]}, "legend": {"orient": "none", "legendX": 5, "legendY": -30, "title": null, "symbolType": "M-1,-0.33H1V0.33H-1Z", "symbolSize": 576, "symbolStrokeWidth": 2.5, "symbolOpacity": 1, "labelFontSize": 11, "labelExpr": "''", "rowPadding": 2, "padding": 0}}
   }},
  {"transform": [{"filter": "datum.s !== 'a'"}],
   "mark": {"type": "line", "strokeWidth": 2.2, "interpolate": "monotone"},
   "encoding": {
    "x": {"field": "d", "type": "temporal", "scale": {"type": "utc", "domain": [{"year":2024,"month":1,"date":12,"utc":true},{"year":2024,"month":2,"date":8,"utc":true}]}, "axis": {"values": [{"year":2024,"month":1,"date":12,"utc":true},{"year":2024,"month":1,"date":14,"utc":true},{"year":2024,"month":1,"date":16,"utc":true},{"year":2024,"month":1,"date":18,"utc":true},{"year":2024,"month":1,"date":20,"utc":true},{"year":2024,"month":1,"date":22,"utc":true},{"year":2024,"month":1,"date":24,"utc":true},{"year":2024,"month":1,"date":26,"utc":true},{"year":2024,"month":1,"date":28,"utc":true},{"year":2024,"month":1,"date":30,"utc":true},{"year":2024,"month":2,"date":1,"utc":true},{"year":2024,"month":2,"date":3,"utc":true},{"year":2024,"month":2,"date":5,"utc":true},{"year":2024,"month":2,"date":7,"utc":true}], "format": "%Y/%-m/%-d", "labelAngle": -45, "labelAlign": "right", "labelBaseline": "middle", "labelFontSize": 11.5, "labelFlush": false, "labelOverlap": false, "title": null}},
    "y": {"field": "v", "type": "quantitative", "scale": {"domain": [1500, 1900], "nice": false, "zero": false}, "axis": {"orient": "left", "offset": 5, "format": "d", "values": [1500,1550,1600,1650,1700,1750,1800,1850,1900], "title": "元/吨", "titleAngle": 0, "titleX": -30, "titleY": -18, "titleAlign": "left", "titleBaseline": "middle", "titleFontSize": 9, "titleFontWeight": "normal", "titleColor": "#333"}},
    "stroke": {"field": "s", "type": "nominal", "scale": {"domain": ["a","f5","f9"], "range": ["#b3282d","#1c3a72","#dcb590"]}, "legend": {"orient": "none", "legendX": 5, "legendY": -30, "title": null, "direction": "horizontal", "columns": 2, "columnPadding": 1, "symbolType": "stroke", "symbolSize": 576, "symbolStrokeWidth": 2.5, "labelFont": "DejaVu Sans Mono", "labelFontSize": 11, "labelColor": "#222", "labelLimit": 0, "labelOffset": 3, "rowPadding": 2, "padding": 0, "labelExpr": "datum.label === 'a' ? 'fg_active-next:close' : datum.label === 'f5' ? 'fg2405:close' : 'fg2409:close'"}}
   }}
 ],
 "resolve": {"scale": {"y": "independent"}}
},
{"width": 1, "height": 1, "data": {"values": []}, "mark": "point"},
{
 "width": 327, "height": 172,
 "data": {"name": "g3"},
 "layer": [
  {"transform": [{"filter": "datum.s === 'b'"}],
   "mark": {"type": "area", "opacity": 1, "clip": true},
   "encoding": {
    "x": {"field": "d", "type": "temporal", "scale": {"type": "utc", "domain": [{"year":2023,"month":7,"date":5,"utc":true},{"year":2024,"month":2,"date":16,"utc":true}]}, "axis": {"values": [{"year":2023,"month":7,"date":5,"utc":true},{"year":2023,"month":8,"date":5,"utc":true},{"year":2023,"month":9,"date":5,"utc":true},{"year":2023,"month":10,"date":5,"utc":true},{"year":2023,"month":11,"date":5,"utc":true},{"year":2023,"month":12,"date":5,"utc":true},{"year":2024,"month":1,"date":5,"utc":true},{"year":2024,"month":2,"date":5,"utc":true}], "format": "%Y-%m-%d", "labelAngle": -45, "labelAlign": "right", "labelBaseline": "middle", "labelFontSize": 11.5, "labelFlush": false, "labelOverlap": false, "title": null}},
    "y": {"field": "v", "type": "quantitative", "stack": null, "scale": {"domain": [0, 1800], "nice": false}, "axis": {"orient": "right", "format": "d", "domain": false, "ticks": false, "labelPadding": 22, "values": [0,200,400,600,800,1000,1200,1400,1600,1800], "title": null}},
    "fill": {"field": "s", "type": "nominal", "scale": {"domain": ["b"], "range": ["#b3282d"]}, "legend": {"orient": "none", "legendX": 37, "legendY": -30, "title": null, "symbolType": "M-1,-0.33H1V0.33H-1Z", "symbolSize": 576, "symbolStrokeWidth": 2.5, "symbolOpacity": 1, "labelFontSize": 12.5, "labelExpr": "''", "rowPadding": 2, "padding": 0}}
   }},
  {"transform": [{"filter": "datum.s !== 'b'"}],
   "mark": {"type": "line", "strokeWidth": 2.6, "clip": true},
   "encoding": {
    "x": {"field": "d", "type": "temporal", "scale": {"type": "utc", "domain": [{"year":2023,"month":7,"date":5,"utc":true},{"year":2024,"month":2,"date":16,"utc":true}]}, "axis": {"values": [{"year":2023,"month":7,"date":5,"utc":true},{"year":2023,"month":8,"date":5,"utc":true},{"year":2023,"month":9,"date":5,"utc":true},{"year":2023,"month":10,"date":5,"utc":true},{"year":2023,"month":11,"date":5,"utc":true},{"year":2023,"month":12,"date":5,"utc":true},{"year":2024,"month":1,"date":5,"utc":true},{"year":2024,"month":2,"date":5,"utc":true}], "format": "%Y-%m-%d", "labelAngle": -45, "labelAlign": "right", "labelBaseline": "middle", "labelFontSize": 11.5, "labelFlush": false, "labelOverlap": false, "title": null}},
    "y": {"field": "v", "type": "quantitative", "scale": {"domain": [0, 4000], "nice": false}, "axis": {"orient": "left", "format": "d", "values": [0,500,1000,1500,2000,2500,3000,3500,4000], "title": "元/吨", "titleAngle": 0, "titleX": -43, "titleY": -18, "titleAlign": "left", "titleBaseline": "middle", "titleFontSize": 9, "titleFontWeight": "normal", "titleColor": "#333"}},
    "stroke": {"field": "s", "type": "nominal", "scale": {"domain": ["b","p","q"], "range": ["#b3282d","#1c3a72","#dcb590"]}, "legend": {"orient": "none", "legendX": 37, "legendY": -30, "title": null, "direction": "vertical", "symbolType": "stroke", "symbolSize": 576, "symbolStrokeWidth": 2.5, "labelFontSize": 12.5, "labelColor": "#222", "labelLimit": 0, "labelOffset": 4, "rowPadding": 2, "padding": 0, "labelExpr": "datum.label === 'b' ? '基差（右轴）' : datum.label === 'p' ? '纯碱：重质：市场价：华北地区（日）' : '期货收盘价(活跃:成交量):纯碱(SA)'"}}
   }}
 ],
 "resolve": {"scale": {"y": "independent"}}
},
{
 "width": 345, "height": 172,
 "data": {"name": "g4"},
 "layer": [
  {"transform": [{"filter": "datum.s === 'm'"}],
   "mark": {"type": "area", "opacity": 1},
   "encoding": {
    "x": {"field": "d", "type": "temporal", "scale": {"type": "utc", "domain": [{"year":2023,"month":12,"date":24,"utc":true},{"year":2024,"month":2,"date":8,"utc":true}]}, "axis": {"values": [{"year":2023,"month":12,"date":25,"utc":true},{"year":2024,"month":1,"date":1,"utc":true},{"year":2024,"month":1,"date":8,"utc":true},{"year":2024,"month":1,"date":15,"utc":true},{"year":2024,"month":1,"date":22,"utc":true},{"year":2024,"month":1,"date":29,"utc":true},{"year":2024,"month":2,"date":5,"utc":true}], "format": "%Y/%-m/%-d", "labelAngle": -45, "labelAlign": "right", "labelBaseline": "middle", "labelFontSize": 11.5, "labelFlush": false, "labelOverlap": false, "title": null}},
    "y": {"field": "v", "type": "quantitative", "stack": null, "scale": {"domain": [0, 600], "nice": false}, "axis": null},
    "fill": {"field": "s", "type": "nominal", "scale": {"domain": ["m"], "range": ["#b3282d"]}, "legend": {"orient": "none", "legendX": 15, "legendY": -29, "title": null, "symbolType": "M-1,-0.33H1V0.33H-1Z", "symbolSize": 576, "symbolStrokeWidth": 2.5, "symbolOpacity": 1, "labelFontSize": 10.5, "labelExpr": "''", "rowPadding": 2, "padding": 0}}
   }},
  {"transform": [{"filter": "datum.s !== 'm'"}],
   "mark": {"type": "line", "strokeWidth": 2.2, "interpolate": "monotone"},
   "encoding": {
    "x": {"field": "d", "type": "temporal", "scale": {"type": "utc", "domain": [{"year":2023,"month":12,"date":24,"utc":true},{"year":2024,"month":2,"date":8,"utc":true}]}, "axis": {"values": [{"year":2023,"month":12,"date":25,"utc":true},{"year":2024,"month":1,"date":1,"utc":true},{"year":2024,"month":1,"date":8,"utc":true},{"year":2024,"month":1,"date":15,"utc":true},{"year":2024,"month":1,"date":22,"utc":true},{"year":2024,"month":1,"date":29,"utc":true},{"year":2024,"month":2,"date":5,"utc":true}], "format": "%Y/%-m/%-d", "labelAngle": -45, "labelAlign": "right", "labelBaseline": "middle", "labelFontSize": 11.5, "labelFlush": false, "labelOverlap": false, "title": null}},
    "y": {"field": "v", "type": "quantitative", "scale": {"domain": [1600, 2200], "nice": false, "zero": false}, "axis": {"orient": "left", "format": "d", "values": [1600,1700,1800,1900,2000,2100,2200], "title": "元/吨", "titleAngle": 0, "titleX": -40, "titleY": -17, "titleAlign": "left", "titleBaseline": "middle", "titleFontSize": 9, "titleFontWeight": "normal", "titleColor": "#333"}},
    "stroke": {"field": "s", "type": "nominal", "scale": {"domain": ["m","s5","s9"], "range": ["#b3282d","#1c3a72","#dcb590"]}, "legend": {"orient": "none", "legendX": 15, "legendY": -29, "title": null, "direction": "horizontal", "columns": 3, "gridAlign": "none", "columnPadding": 16, "symbolType": "stroke", "symbolSize": 576, "symbolStrokeWidth": 2.5, "labelFont": "DejaVu Sans Mono, Noto Sans CJK SC", "labelFontSize": 10.5, "labelColor": "#222", "labelLimit": 0, "labelOffset": 3, "rowPadding": 2, "padding": 0, "labelExpr": "datum.label === 'm' ? '月差' : datum.label === 's5' ? 'sa2405:close' : 'sa2409:close'"}}
   }}
 ],
 "resolve": {"scale": {"y": "independent"}}
}
]
}
